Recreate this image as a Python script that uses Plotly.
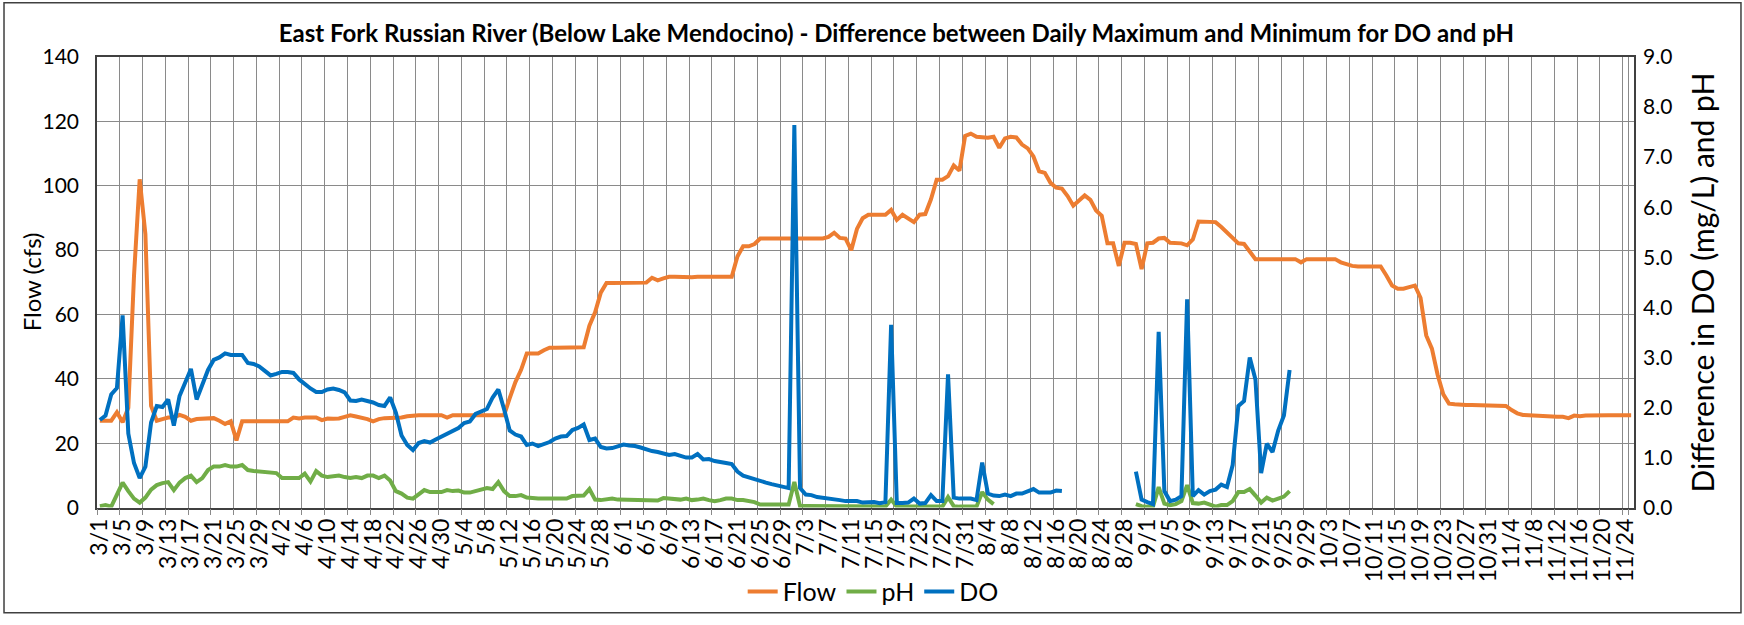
import pandas as pd
import plotly.graph_objects as go

# daily categories, 3/1 .. 11/25
days = pd.date_range("2019-03-01", "2019-11-25", freq="D")
date_labels = [f"{d.month}/{d.day}" for d in days]

flow = [
    27, 27, 27, 29.6, 26.5, 31, 72, 102, 85, 31.6,
    27, 27.5, 28, 28, 28.8, 28.2, 27, 27.5, 27.5, 27.5,
    27.8, 27, 26, 26.8, 20.9, 26.8, 26.8, 26.8, 26.8, 26.8,
    26.8, 26.8, 26.8, 26.8, 28, 27.7, 28, 28, 28, 27.2,
    27.7, 27.6, 27.7, 28.2, 28.7, 28.3, 28, 27.5, 26.8, 27.5,
    27.8, 27.8, 28, 28, 28.4, 28.7, 28.7, 28.7, 28.7, 28.7,
    28.7, 28, 28.7, 28.7, 28.7, 28.7, 28.7, 28.7, 28.7, 28.7,
    28.7, 28.7, 34, 39, 42.8, 47.9, 47.9, 47.9, 48.9, 49.7,
    49.7, 49.7, 49.7, 49.7, 49.7, 49.8, 56.5, 60.7, 66.8, 69.8,
    69.8, 69.8, 69.8, 69.8, 69.8, 69.8, 69.9, 71.4, 70.6, 71.2,
    71.7, 71.7, 71.6, 71.4, 71.6, 71.7, 71.7, 71.7, 71.7, 71.7,
    71.7, 71.7, 78, 81.2, 81.2, 81.9, 83.6, 83.6, 83.6, 83.6,
    83.6, 83.6, 83.4, 83.6, 83.6, 83.6, 83.6, 83.6, 84.1, 85.4,
    83.8, 83.6, 80, 86.6, 89.9, 91, 91, 91, 91, 92.5,
    89.4, 91, 89.7, 88.7, 91, 91.2, 95.8, 101.9, 101.9, 103,
    106.3, 104.7, 115.5, 116.2, 115.2, 115, 114.9, 115.2, 111.8, 114.7,
    115.2, 115, 112.8, 111.6, 109.1, 104.5, 104, 100.9, 99.4, 99.1,
    96.8, 93.8, 95.3, 97, 95.6, 92.3, 90.7, 82.1, 82.1, 75.1,
    82.3, 82.3, 81.9, 74.1, 82.1, 82.3, 83.6, 83.8, 82.3, 82.1,
    82.1, 81.5, 83.3, 88.9, 88.9, 88.9, 88.7, 87.2, 85.6, 84.1,
    82.1, 81.9, 79.5, 77.2, 77.2, 77.2, 77.2, 77.2, 77.2, 77.2,
    77.2, 76.2, 77.2, 77.2, 77.2, 77.2, 77.2, 77.2, 76.2, 75.6,
    75.1, 74.9, 74.9, 74.9, 74.9, 74.9, 72.1, 69, 68, 68,
    68.5, 69, 65.2, 53.5, 49.4, 41.3, 35.2, 32.3, 32.1, 31.9,
    31.9, 31.9, 31.9, 31.9, 31.9, 31.9, 31.9, 31.6, 30.3, 29.3,
    28.8, 28.7, 28.4, 28.2, 28.2, 28.2, 28.2, 28.2, 27.8, 28.6,
    28.4, 28.6, 28.7, 28.7, 28.7, 28.7, 28.7, 28.7, 28.7, 28.7,
]

ph_diff = [
    0.03, 0.05, 0.02, 0.26, 0.5, 0.33, 0.18, 0.1, 0.2, 0.36,
    0.45, 0.49, 0.51, 0.35, 0.5, 0.59, 0.64, 0.51, 0.59, 0.75,
    0.82, 0.82, 0.85, 0.82, 0.82, 0.85, 0.75, 0.73, 0.72, 0.7,
    0.69, 0.69, 0.59, 0.59, 0.59, 0.59, 0.68, 0.52, 0.73, 0.64,
    0.61, 0.62, 0.64, 0.61, 0.59, 0.61, 0.59, 0.64, 0.64, 0.59,
    0.64, 0.54, 0.33, 0.28, 0.2, 0.18, 0.26, 0.35, 0.31, 0.3,
    0.31, 0.35, 0.33, 0.34, 0.3, 0.3, 0.33, 0.37, 0.39, 0.37,
    0.51, 0.33, 0.23, 0.23, 0.25, 0.2, 0.18, 0.18, 0.18, 0.18,
    0.18, 0.18, 0.18, 0.23, 0.23, 0.24, 0.37, 0.16, 0.15, 0.16,
    0.18, 0.16, 0.16, 0.16, 0.16, 0.15, 0.16, 0.15, 0.14, 0.19,
    0.18, 0.15, 0.16, 0.18, 0.15, 0.16, 0.18, 0.15, 0.13, 0.15,
    0.18, 0.18, 0.15, 0.15, 0.13, 0.11, 0.06, 0.06, 0.06, 0.06,
    0.06, 0.06, 0.51, 0.03, 0.03, 0.03, 0.03, 0.03, 0.03, 0.03,
    0.02, 0.02, 0.02, 0.02, 0.02, 0.02, 0.02, 0.02, 0.02, 0.16,
    0.02, 0.02, 0.02, 0.02, 0.02, 0.02, 0.02, 0.02, 0.02, 0.21,
    0.03, 0.02, 0.02, 0.02, 0.02, 0.31, 0.16, 0.07, None, None,
    None, None, None, None, None, None, None, None, None, None,
    None, None, None, None, None, None, None, None, None, None,
    None, None, 0.07, 0.03, 0.02, 0.02, 0.41, 0.08, 0.05, 0.07,
    0.13, 0.45, 0.09, 0.08, 0.1, 0.05, 0.02, 0.05, 0.05, 0.13,
    0.31, 0.31, 0.37, 0.24, 0.1, 0.2, 0.14, 0.18, 0.22, 0.33,
]

do_diff = [
    1.75, 1.84, 2.26, 2.39, 3.84, 1.48, 0.89, 0.59, 0.82, 1.7,
    2.03, 2.01, 2.16, 1.64, 2.23, 2.49, 2.77, 2.16, 2.43, 2.75,
    2.95, 3.0, 3.08, 3.05, 3.05, 3.05, 2.89, 2.87, 2.82, 2.72,
    2.64, 2.67, 2.71, 2.71, 2.69, 2.56, 2.46, 2.38, 2.31, 2.31,
    2.36, 2.38, 2.35, 2.3, 2.14, 2.13, 2.16, 2.14, 2.1, 2.05,
    2.03, 2.2, 1.9, 1.44, 1.25, 1.15, 1.29, 1.33, 1.3, 1.36,
    1.42, 1.48, 1.54, 1.59, 1.69, 1.72, 1.87, 1.93, 1.97, 2.2,
    2.36, 1.97, 1.54, 1.46, 1.42, 1.25, 1.28, 1.23, 1.26, 1.31,
    1.38, 1.42, 1.43, 1.55, 1.59, 1.66, 1.35, 1.38, 1.21, 1.18,
    1.19, 1.23, 1.26, 1.24, 1.23, 1.2, 1.16, 1.13, 1.11, 1.07,
    1.05, 1.07, 1.03, 1.0, 1.0, 1.07, 0.96, 0.97, 0.93, 0.9,
    0.89, 0.87, 0.72, 0.64, 0.6, 0.57, 0.54, 0.5, 0.47, 0.45,
    0.41, 0.39, 7.64, 0.39, 0.26, 0.25, 0.21, 0.2, 0.19, 0.16,
    0.15, 0.13, 0.14, 0.13, 0.1, 0.11, 0.11, 0.09, 0.11, 3.65,
    0.09, 0.09, 0.1, 0.18, 0.08, 0.09, 0.25, 0.13, 0.13, 2.66,
    0.2, 0.18, 0.18, 0.18, 0.15, 0.9, 0.28, 0.24, 0.23, 0.26,
    0.23, 0.28, 0.28, 0.33, 0.37, 0.3, 0.31, 0.3, 0.34, 0.33,
    None, None, None, None, None, None, None, None, None, None,
    None, None, 0.72, 0.16, 0.11, 0.07, 3.51, 0.33, 0.13, 0.16,
    0.23, 4.16, 0.23, 0.35, 0.26, 0.33, 0.36, 0.46, 0.41, 0.85,
    2.03, 2.13, 3.0, 2.56, 0.69, 1.28, 1.11, 1.54, 1.84, 2.75,
]

FONT = "Lato, 'Open Sans', sans-serif"
GRID = "#8a8a8a"

# paper area runs from y=57 to y=615 px; the axes sit in its upper part so the
# legend below the date labels stays inside the paper and never pushes margins
Y_DOMAIN = [0.1792, 1]

fig = go.Figure()
fig.add_trace(go.Scatter(x=date_labels, y=flow, name="Flow", mode="lines",
                         line=dict(color="#ED7D31", width=4)))
fig.add_trace(go.Scatter(x=date_labels[:len(ph_diff)], y=ph_diff, name="pH", mode="lines",
                         line=dict(color="#70AD47", width=4), yaxis="y2"))
fig.add_trace(go.Scatter(x=date_labels[:len(do_diff)], y=do_diff, name="DO", mode="lines",
                         line=dict(color="#0070C0", width=4), yaxis="y2"))

fig.update_layout(
    width=1744, height=625,
    margin=dict(l=97, r=110, t=57, b=10),
    paper_bgcolor="white", plot_bgcolor="white",
    font=dict(family=FONT, color="black"),
    title=dict(
        text="East Fork Russian River (Below Lake Mendocino) - Difference between Daily Maximum and Minimum for DO and pH",
        font=dict(size=24, weight="bold", color="black"),
        x=0.514, xref="container", xanchor="center",
        y=0.947, yref="container", yanchor="middle",
    ),
    xaxis=dict(
        type="category", range=[-0.5, len(date_labels) - 0.5],
        tickmode="array", tickvals=date_labels[::4], tickangle=-90,
        tickson="boundaries", ticks="outside", ticklen=6, tickcolor=GRID,
        showgrid=True, gridcolor=GRID, gridwidth=1.3,
        showline=True, linecolor="#404040", linewidth=1.5, mirror=True,
        tickfont=dict(size=23), automargin=False,
    ),
    yaxis=dict(
        domain=Y_DOMAIN, range=[0, 140], dtick=20,
        showgrid=True, gridcolor=GRID, gridwidth=1.3,
        showline=True, linecolor="#404040", linewidth=1.5, mirror=True,
        zeroline=False, tickfont=dict(size=21), ticklabelstandoff=12, automargin=False,
    ),
    yaxis2=dict(
        domain=Y_DOMAIN, range=[0, 9], dtick=1, tickformat=".1f",
        overlaying="y", side="right",
        showgrid=False, zeroline=False, tickfont=dict(size=21), ticklabelstandoff=8,
        automargin=False,
    ),
    legend=dict(
        orientation="h", x=0.505, xanchor="center", y=0.026, yanchor="middle",
        font=dict(size=25), itemwidth=30, tracegroupgap=0,
        bgcolor="rgba(0,0,0,0)",
    ),
    annotations=[
        dict(text="Flow (cfs)", textangle=-90, font=dict(size=24),
             xref="paper", yref="y domain", x=-0.0429, y=0.5,
             xanchor="center", yanchor="middle", showarrow=False),
        dict(text="Difference in DO (mg/L) and pH", textangle=-90, font=dict(size=30),
             xref="paper", yref="y domain", x=1.0443, y=0.5,
             xanchor="center", yanchor="middle", showarrow=False),
    ],
    shapes=[dict(type="rect", xref="paper", yref="paper",
                 x0=-0.0605, x1=1.0696, y0=-0.0125, y1=1.0986,
                 line=dict(color="#404040", width=1.5))],
)

# the page's default body margin would shift the figure by 8px
fig.write_html("out.html", config={"displayModeBar": False},
               post_script="document.body.style.margin='0';"
               "document.documentElement.style.overflow='hidden';")
